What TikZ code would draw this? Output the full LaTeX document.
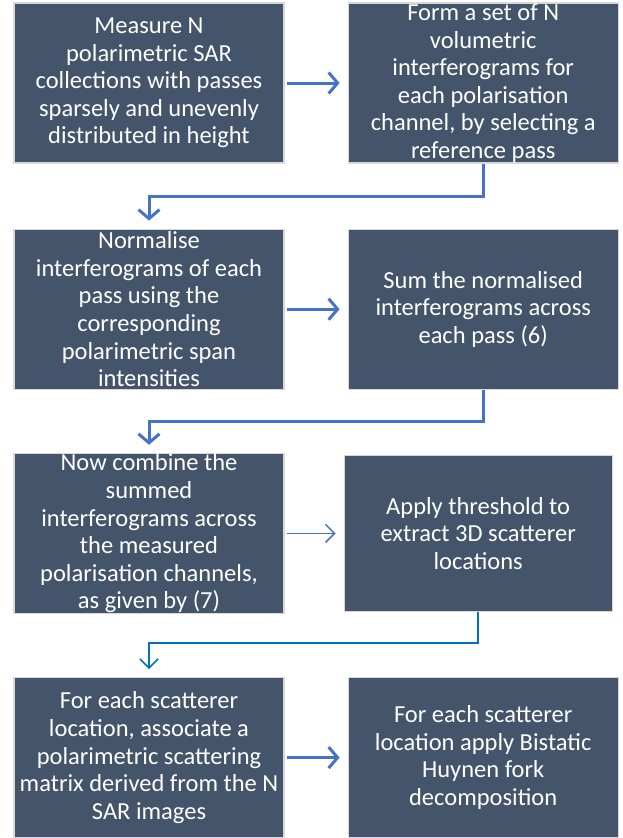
\documentclass[tikz,border=0pt]{standalone}
\usepackage{fontspec}
\setmainfont{Carlito}
\usepackage{tikz}
\usetikzlibrary{positioning,arrows.meta}
\definecolor{boxslate}{RGB}{68,84,106}
\definecolor{edgegray}{RGB}{216,216,216}
\definecolor{flowblue}{RGB}{68,114,196}
\definecolor{linkblue}{RGB}{0,112,192}
\tikzset{
  step-box/.style={draw=edgegray, line width=1.2pt, fill=boxslate, text=white,
    minimum width=270pt, minimum height=160pt, align=center, inner sep=0pt,
    font=\fontsize{24.5}{27.6}\selectfont},
  flow-arrow/.style={-{Straight Barb[length=9pt, width=21pt]}, line width=3pt, draw=flowblue},
  thin-arrow/.style={-{Straight Barb[length=9pt, width=18pt]}, line width=1.5pt, draw=flowblue},
  link-arrow/.style={-{Straight Barb[length=9pt, width=18pt]}, line width=1.5pt, draw=linkblue}
}
\begin{document}
\begin{tikzpicture}[x=1pt, y=-1pt]
\useasboundingbox (0,0) rectangle (622,838);

% Row 1
\node[step-box] (measure) at (149,83)
  {Measure N\\polarimetric SAR\\collections with passes\\sparsely and unevenly\\distributed in height};
\node[step-box, right=63pt of measure] (form)
  {Form a set of N\\volumetric\\interferograms for\\each polarisation\\channel, by selecting a\\reference pass};

% Row 2
\node[step-box, below=65pt of measure] (normalise)
  {Normalise\\interferograms of each\\pass using the\\corresponding\\polarimetric span\\intensities};
\node[step-box, right=63pt of normalise] (sum)
  {Sum the normalised\\interferograms across\\each pass (6)};

% Row 3
\node[step-box, below=63pt of normalise] (combine)
  {Now combine the\\summed\\interferograms across\\the measured\\polarisation channels,\\as given by (7)};
\node[step-box, right=59pt of combine, minimum width=268pt, minimum height=156pt] (threshold)
  {Apply threshold to\\extract 3D scatterer\\locations};

% Row 4
\node[step-box, below=63pt of combine] (associate)
  {For each scatterer\\location, associate a\\polarimetric scattering\\matrix derived from the N\\SAR images};
\node[step-box, right=63pt of associate] (huynen)
  {For each scatterer\\location apply Bistatic\\Huynen fork\\decomposition};

% Connectors
\draw[flow-arrow, shorten <=2pt, shorten >=8pt] (measure) -- (form);
\draw[flow-arrow, shorten >=8pt] (form.south) -- ++(0,33) -| (normalise.north);
\draw[flow-arrow, shorten <=2pt, shorten >=8pt] (normalise) -- (sum);
\draw[flow-arrow, shorten >=8pt] (sum.south) -- ++(0,32) -| (combine.north);
\draw[thin-arrow, shorten <=2pt, shorten >=8pt] (combine) -- (threshold);
\draw[link-arrow, shorten >=8pt] (threshold.south) -- ++(0,31) -| (associate.north);
\draw[flow-arrow, shorten <=2pt, shorten >=8pt] (associate) -- (huynen);
\end{tikzpicture}
\end{document}
